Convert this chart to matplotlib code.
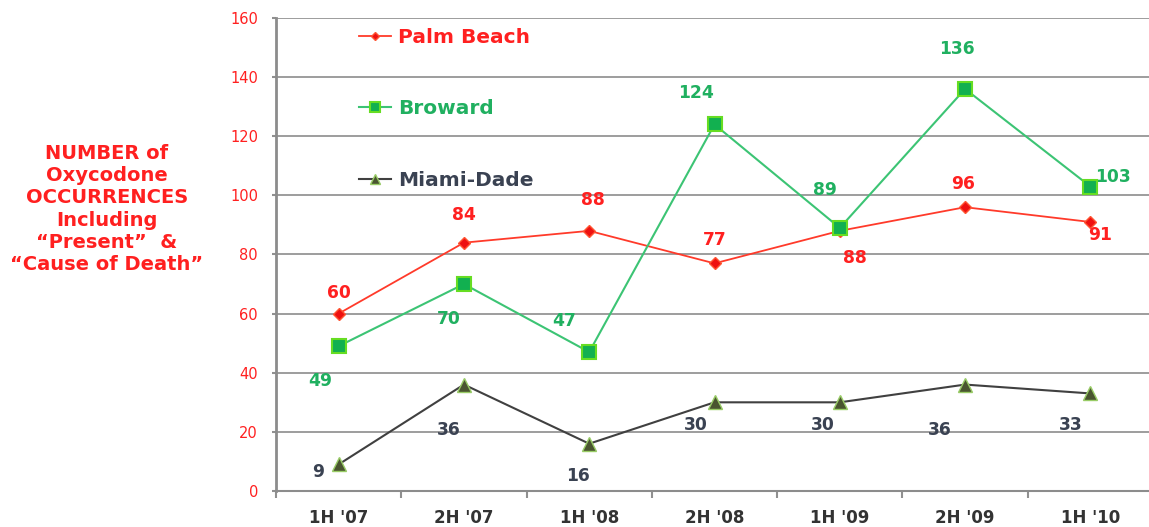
import numpy as np
import matplotlib.pyplot as plt

plt.rcParams['font.family'] = ['DejaVu Sans']

# data
periods = ["1H '07", "2H '07", "1H '08", "2H '08", "1H '09", "2H '09", "1H '10"]
palm_beach = [60, 84, 88, 77, 88, 96, 91]
broward = [49, 70, 47, 124, 89, 136, 103]
miami_dade = [9, 36, 16, 30, 30, 36, 33]

# label offsets in pixels (dx, dy), y up
pb_off = [(0, 21), (0, 28), (4, 31), (0, 23), (15, -27), (-2, 23), (10, -13)]
bw_off = [(-18, -35), (-15, -35), (-25, 31), (-19, 31), (-15, 38), (-8, 40), (23, 10)]
md_off = [(-21, -8), (-15, -45), (-11, -32), (-19, -23), (-17, -23), (-25, -45), (-20, -32)]

fig = plt.figure(figsize=(11.49, 5.27), dpi=100)
ax = fig.add_axes([276 / 1149, 1 - 491 / 527, (1153 - 276) / 1149, (491 - 18) / 527])

x = np.arange(len(periods))

ax.plot(x, palm_beach, color='#ff3a2a', lw=1.3, marker='D', ms=6,
        mfc='#ee1111', mec='#ff5533', label='Palm Beach', zorder=3)
ax.plot(x, broward, color='#3cc474', lw=1.5, marker='s', ms=10,
        mfc='#12b050', mec='#66dd22', mew=1.5, label='Broward', zorder=3)
ax.plot(x, miami_dade, color='#404040', lw=1.5, marker='^', ms=10,
        mfc='#4a5530', mec='#99cc66', label='Miami-Dade', zorder=3)

lab_kw = dict(textcoords='offset pixels', ha='center', va='center',
              fontsize=12.3, fontweight='bold')
for xi, v, o in zip(x, palm_beach, pb_off):
    ax.annotate(str(v), (xi, v), xytext=o, color='#ff2020', **lab_kw)
for xi, v, o in zip(x, broward, bw_off):
    ax.annotate(str(v), (xi, v), xytext=o, color='#20b060', **lab_kw)
for xi, v, o in zip(x, miami_dade, md_off):
    ax.annotate(str(v), (xi, v), xytext=o, color='#3a4252', **lab_kw)

ax.set_xlim(-0.5, len(periods) - 0.5)
ax.set_ylim(0, 160)
ax.set_yticks(np.arange(0, 161, 20))
ax.set_xticks(x)
ax.set_xticklabels(periods, fontsize=12, fontweight='bold', color='#333333')
ax.set_xticks(np.arange(-0.5, len(periods), 1), minor=True)
ax.tick_params(axis='x', which='major', length=0, pad=13)
ax.tick_params(axis='x', which='minor', length=5, width=1.5, color='#909090', direction='out')
ax.tick_params(axis='y', length=3, width=1.5, color='#909090', labelsize=10.5,
               labelcolor='#ff2020', pad=10)

ax.grid(axis='y', color='#8c8c8c', lw=1.2)
ax.set_axisbelow(True)
for s in ['top', 'right']:
    ax.spines[s].set_visible(False)
ax.spines['left'].set_color('#8c8c8c')
ax.spines['left'].set_linewidth(2)
ax.spines['bottom'].set_color('#8c8c8c')
ax.spines['bottom'].set_linewidth(1.5)

leg = ax.legend(loc='upper left', bbox_to_anchor=(0.085, 0.996), frameon=False,
                labelspacing=2.6, handlelength=1.6, handletextpad=0.35, markerscale=0.75,
                borderaxespad=0, prop={'weight': 'bold', 'size': 14.5})
leg_colors = ['#ff2020', '#20b060', '#3a4252']
for t, c in zip(leg.get_texts(), leg_colors):
    t.set_color(c)

fig.text(107 / 1149, 1 - 209 / 527,
         'NUMBER of\nOxycodone\nOCCURRENCES\nIncluding\n\u201cPresent\u201d  &\n\u201cCause of Death\u201d',
         ha='center', va='center', color='#ff2020', fontsize=14, fontweight='bold',
         linespacing=1.22)

fig.savefig('out.png', dpi=100)
